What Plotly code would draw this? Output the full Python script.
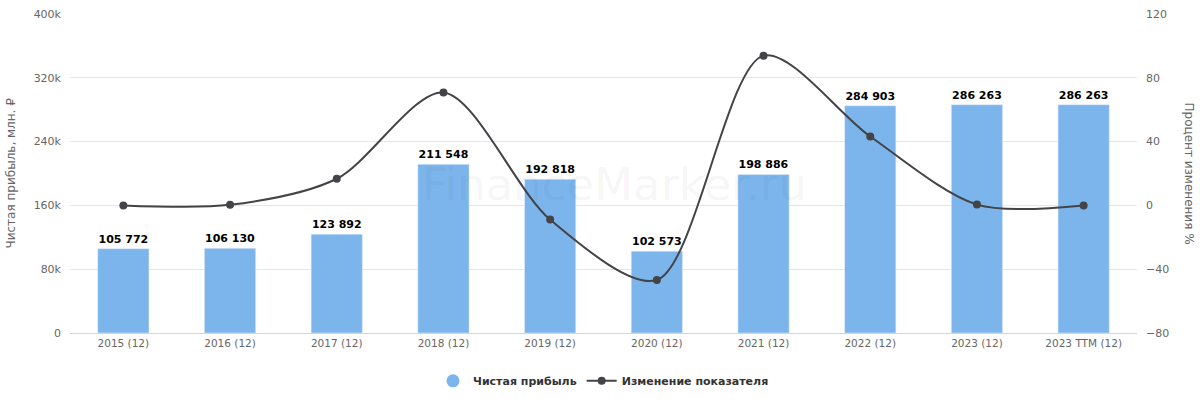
import plotly.graph_objects as go

categories = ["2015 (12)", "2016 (12)", "2017 (12)", "2018 (12)", "2019 (12)",
              "2020 (12)", "2021 (12)", "2022 (12)", "2023 (12)", "2023 TTM (12)"]
net_profit = [105772, 106130, 123892, 211548, 192818, 102573, 198886, 284903, 286263, 286263]
change_pct = [0, 0.34, 16.7, 70.8, -8.9, -46.8, 93.9, 43.2, 0.5, 0]

left_ticks = [0, 80000, 160000, 240000, 320000, 400000]
left_tick_text = ["0", "80k", "160k", "240k", "320k", "400k"]
right_ticks = [-80, -40, 0, 40, 80, 120]

BAR = "#7cb5ec"
LINE = "#434348"
FONT = "DejaVu Sans"

fig = go.Figure()
fig.add_trace(go.Bar(
    x=categories, y=net_profit, name="Чистая прибыль", marker_color=BAR,
    width=0.48, showlegend=False,
    texttemplate="<b>%{y:,.0f}</b>", textposition="outside",
    textfont=dict(family=FONT, size=11, color="#000000"),
    cliponaxis=False,
))
fig.add_trace(go.Scatter(
    x=[None], y=[None], mode="markers", name="<b>Чистая прибыль</b>",
    marker=dict(color=BAR, size=13, symbol="circle"), showlegend=True,
))
fig.add_trace(go.Scatter(
    x=categories, y=change_pct, name="<b>Изменение показателя</b>", yaxis="y2",
    mode="lines+markers", line=dict(color=LINE, width=2, shape="spline", smoothing=0.85),
    marker=dict(color=LINE, size=8), cliponaxis=False,
))

fig.update_layout(
    width=1200, height=402,
    margin=dict(l=70, r=63, t=14, b=69, autoexpand=False),
    paper_bgcolor="white", plot_bgcolor="white",
    separators=", ",
    font=dict(family=FONT, size=11, color="#666666"),
    bargap=0.52,
    xaxis=dict(range=[-0.5, len(categories) - 0.5], showgrid=False, showline=True,
               linecolor="#ccd6eb", linewidth=1,
               ticks="", tickfont=dict(size=10.5, color="#666666"), automargin=False),
    yaxis=dict(range=[0, 400000], tickvals=left_ticks, ticktext=left_tick_text,
               showgrid=True, gridcolor="#e6e6e6", zeroline=False, showline=False,
               tickfont=dict(size=11, color="#666666"), ticklabelstandoff=8,
               automargin=False),
    yaxis2=dict(range=[-80, 120], tickvals=right_ticks, overlaying="y", side="right",
                showgrid=False, zeroline=False, showline=False,
                tickfont=dict(size=11, color="#666666"), ticklabelstandoff=8,
                automargin=False),
    legend=dict(orientation="h", x=0.5, xanchor="center", y=-0.15, yanchor="middle",
                font=dict(size=11, color="#333333", family=FONT)),
    annotations=[
        dict(text="Чистая прибыль, млн. ₽", textangle=-90, x=0, xref="paper",
             xshift=-60, xanchor="center", y=0.5, yref="paper", showarrow=False,
             font=dict(size=12, color="#666666")),
        dict(text="FinanceMarker.ru", x=0.51, y=0.465, xref="paper", yref="paper",
             showarrow=False, font=dict(size=45, color="rgba(0,0,0,0.05)")),
        dict(text="Процент изменения %", textangle=90, x=1.0, xref="paper",
             xshift=61, y=0.5, yref="paper", showarrow=False,
             font=dict(size=12, color="#666666")),
    ],
)

fig.write_html("out.html", config={"displayModeBar": False},
               post_script="document.body.style.margin='0';document.body.style.overflow='hidden';")
